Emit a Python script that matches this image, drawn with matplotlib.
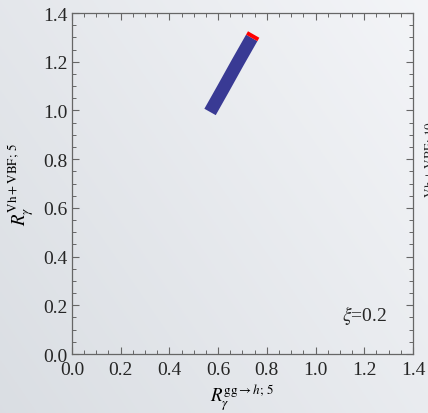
import numpy as np
import matplotlib
matplotlib.use('Agg')
import matplotlib.pyplot as plt
from matplotlib.ticker import MultipleLocator

plt.rcParams['font.family'] = ['Liberation Serif', 'DejaVu Serif']
plt.rcParams['mathtext.fontset'] = 'stix'

# band of allowed points (blue) and the end segment (red)
band_x = [0.567, 0.62, 0.68, 0.738]
band_y = [0.994, 1.088, 1.196, 1.298]
end_x = [0.738, 0.746]
end_y = [1.298, 1.312]

ticks = [0.0, 0.2, 0.4, 0.6, 0.8, 1.0, 1.2, 1.4]
tick_labels = ['0.0', '0.2', '0.4', '0.6', '0.8', '1.0', '1.2', '1.4']

fig = plt.figure(figsize=(4.28, 4.14), dpi=100)

# grey gradient background
bg = fig.add_axes([0, 0, 1, 1], zorder=-1)
gx, gy = np.meshgrid(np.linspace(0, 1, 200), np.linspace(0, 1, 200))
g = 0.6 * gx + 0.4 * gy
c0 = np.array([0.855, 0.87, 0.89])
c1 = np.array([0.955, 0.96, 0.972])
img = c0 + (c1 - c0) * g[..., None]
bg.imshow(img, origin='lower', extent=[0, 1, 0, 1], aspect='auto')
bg.axis('off')

ax = fig.add_axes([0.168, 0.1425, 0.797, 0.8235])
ax.patch.set_alpha(0)

ax.plot(band_x, band_y, color='#393a94', lw=9.4, solid_capstyle='butt')
ax.plot(end_x, end_y, color='#ff0000', lw=9.4, solid_capstyle='butt')

ax.set_xlim(0, 1.4)
ax.set_ylim(0, 1.4)
ax.set_xticks(ticks)
ax.set_xticklabels(tick_labels)
ax.set_yticks(ticks)
ax.set_yticklabels(tick_labels)
ax.xaxis.set_minor_locator(MultipleLocator(0.05))
ax.yaxis.set_minor_locator(MultipleLocator(0.05))
ax.tick_params(which='both', direction='in', top=True, right=True,
               color='#666666', labelsize=14, labelcolor='#262626')
ax.tick_params(which='major', length=5, width=0.8, pad=3)
ax.tick_params(which='minor', length=3, width=0.7)
ax.tick_params(axis='x', pad=5)
for s in ax.spines.values():
    s.set_color('#666666')
    s.set_linewidth(0.9)

ax.set_xlabel(r'$R_\gamma^{\mathrm{gg}\to h;\,5}$', fontsize=13.5, labelpad=3)
ax.set_ylabel(r'$R_\gamma^{\mathrm{Vh+VBF};\,5}$', fontsize=13.5, labelpad=5)

ax.text(1.108, 0.164, r'$\xi$=0.2', fontsize=14, va='center', ha='left',
        color='#262626')

# label of the neighbouring panel, cut off at the right edge
fig.text(0.99, 0.60, r'$R_\gamma^{\mathrm{Vh+VBF};\,10}$', fontsize=13.5,
         rotation=90, ha='left', va='center', color='#262626')

fig.savefig('out.png', dpi=100)
